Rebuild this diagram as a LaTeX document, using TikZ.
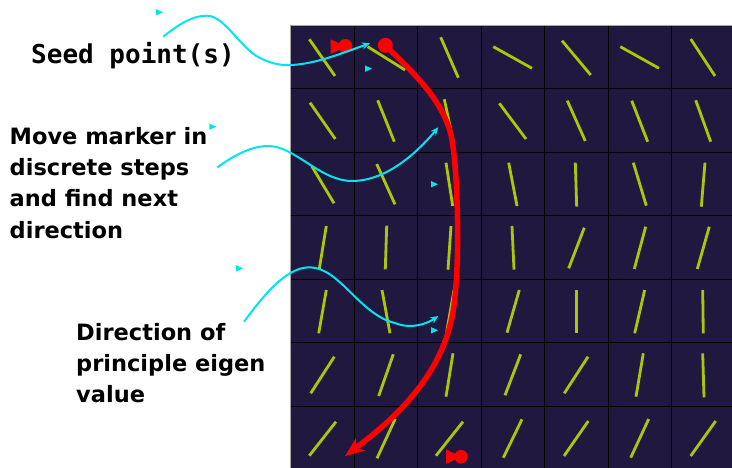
\documentclass[tikz,border=0pt]{standalone}
\usepackage{fontspec}
\newfontfamily\calloutfont{DejaVu Sans}
\newfontfamily\seedfont{DejaVu Sans Mono}
\usetikzlibrary{arrows.meta}
\definecolor{fieldbg}{RGB}{33,24,64}
\definecolor{vecline}{RGB}{168,200,8}
\definecolor{guide}{RGB}{0,230,240}
\definecolor{trace}{RGB}{255,0,0}

\begin{document}
\begin{tikzpicture}[x=1pt,y=-1pt,
  callout/.style={font=\calloutfont\bfseries\fontsize{22.5}{31}\selectfont,
    inner sep=0pt, anchor=base west},
  seedlabel/.style={font=\seedfont\bfseries\fontsize{26}{30}\selectfont,
    inner sep=0pt, anchor=base west},
  vec/.style={vecline, line width=2.8pt},
  cellline/.style={black, line width=1pt},
  guidearrow/.style={guide, line width=2pt, -{Stealth[length=8pt,width=7pt]}},
  tracepath/.style={trace, line width=5.5pt, line cap=round,
    -{Stealth[length=19pt,width=15pt,inset=5pt]}},
  seeddot/.style={circle, fill=trace, minimum size=14pt, inner sep=0pt},
  tick/.style={fill=guide}]

% canvas
\useasboundingbox (0,0) rectangle (732,468);
\fill[white] (0,0) rectangle (732,468);

% eigenvector field on a 7x7 grid
\begin{scope}
  \clip (290.7,25.3) rectangle (732,468);
  \fill[fieldbg] (290.7,25.3) rectangle (732,468);
  \foreach \i in {0,...,7} {
    \draw[cellline] ({290.7+63.5*\i},25.3) -- ({290.7+63.5*\i},470);
    \draw[cellline] (290.7,{25.3+63.5*\i}) -- (735,{25.3+63.5*\i});
  }
  \draw[gray!70, line width=0.8pt] (290.7,468) -- (290.7,25.3) -- (732,25.3);
  \foreach \a/\b/\c/\d in {
    309.3/39.3/335/76, 367.7/46.7/405/70, 440.7/37.3/458.3/77.7,
    493.3/46.7/532/68.3, 562/40.7/590.7/75, 620.3/46.7/659/68.3, 690.7/39/715/76,
    310/102.7/335.3/139, 377.7/100.3/394.3/141.7, 444.3/99.3/453/140,
    499.3/103.3/526/139, 567.3/100.7/585.3/141, 631.7/100.7/647.7/141.7, 695.7/100.3/710.7/141.7,
    311.7/166/334/203.3, 376.7/164/395/204.3, 446/162.7/452.7/206,
    508.7/162.7/517/206, 575.3/162.7/576.7/206.7, 633.3/162.7/646.3/205.7, 705/162.7/701.3/206.7,
    326.3/226/319.3/269, 386.7/225.7/385.3/269.3, 451/226/448/269.7,
    512/226/514/269.7, 584.3/227.7/568.7/268.3, 645.7/226.7/634.3/269, 709.3/226.7/697.3/269,
    326.3/290/318.7/333.3, 382/290/390/333.3, 454/290/446.7/331.7,
    519.3/290/507/332.7, 576.3/290/576.3/333.3, 644.7/290/634.7/333.3, 702.7/290/703.3/333.3,
    334.3/356.7/310.7/393.3, 393.3/354.3/378.7/396, 453/353.3/446/396.7,
    520.7/354.3/505/395.3, 588/356.7/564.3/393.3, 643.3/353.3/636/396.7, 702.7/353.3/704/397.3,
    336/421.7/309.3/455.7, 395.3/418.7/377/458.3, 463/421.7/436/455.7,
    522/419.3/503.3/457.7, 588.3/421/564/456, 648.7/419/630.7/457.7, 715.7/421/690.7/456}
    \draw[vec] (\a,\b) -- (\c,\d);
\end{scope}

% seed markers
\fill[trace] (330.7,39.3) -- (330.7,54) -- (345.3,46.3) -- cycle;
\node[seeddot] (seedA) at (345.3,46) {};
\node[seeddot, minimum size=15pt] (seedB) at (385.3,45.3) {};
\fill[trace] (446,449.3) -- (446,464) -- (461,456.7) -- cycle;
\node[seeddot, minimum size=13.5pt] (seedC) at (461,456.7) {};

% streamline traced from the seed
\coordinate (traceEnd) at (345,456);
\draw[tracepath] (seedB.center) .. controls (410,70) and (445,100) .. (452,140)
  .. controls (458,175) and (460,260) .. (454,305)
  .. controls (446,370) and (400,415) .. (traceEnd);

% labels
\node[seedlabel] (seed) at (31,63.3) {Seed point(s)};
\node[callout] (moveA) at (9.5,144.3) {Move marker in};
\node[callout] (moveB) at (9.5,175.6) {discrete steps};
\node[callout] (moveC) at (9.5,206.9) {and find next};
\node[callout] (moveD) at (9.5,238.2) {direction};
\node[callout] (dirA) at (76,340.7) {Direction of};
\node[callout] (dirB) at (76,371.7) {principle eigen};
\node[callout] (dirC) at (76,402.7) {value};

% callout arrows
\coordinate (gA0) at (163.3,36.7);
\coordinate (gA1) at (370,43.3);
\coordinate (gB0) at (217.3,167.3);
\coordinate (gB1) at (438.3,127.3);
\coordinate (gC0) at (244,321.7);
\coordinate (gC1) at (438.3,316);
\draw[guidearrow] (gA0) .. controls (178,25) and (192,15.5) .. (207,15.7)
  .. controls (225,16) and (240,48) .. (260,58)
  .. controls (270,63) and (280,65.5) .. (290,65)
  .. controls (315,64.5) and (345,52) .. (gA1);
\draw[guidearrow] (gB0) .. controls (232,157) and (250,146) .. (268,146)
  .. controls (295,146) and (320,181) .. (352,181)
  .. controls (385,181) and (415,155) .. (gB1);
\draw[guidearrow] (gC0) .. controls (262,298) and (285,267) .. (310,267.3)
  .. controls (340,268) and (360,315) .. (395,323)
  .. controls (412,330) and (428,323) .. (gC1);

% small pointer ticks
\foreach \x/\y in {156/12.3, 365/68.7, 209.3/126.7, 431/184.2, 236/268.4, 431/330.3}
  \fill[tick] (\x,{\y-3.2}) -- (\x,{\y+3.2}) -- ({\x+7},\y) -- cycle;
\end{tikzpicture}
\end{document}
